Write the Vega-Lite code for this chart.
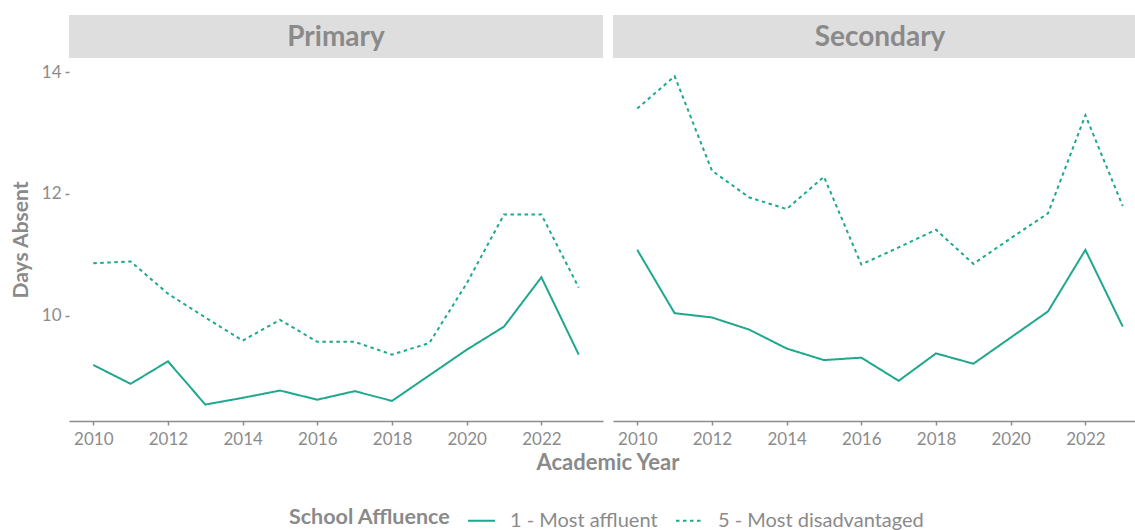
{
  "$schema": "https://vega.github.io/schema/vega-lite/v6.json",
  "background": "white",
  "padding": {"left": 10, "top": 15, "right": 0, "bottom": 4},
  "datasets": {
    "absence": [
      {"phase": "Primary", "affluence": "1 - Most affluent", "year": 2010, "days": 9.19},
      {"phase": "Primary", "affluence": "1 - Most affluent", "year": 2011, "days": 8.88},
      {"phase": "Primary", "affluence": "1 - Most affluent", "year": 2012, "days": 9.25},
      {"phase": "Primary", "affluence": "1 - Most affluent", "year": 2013, "days": 8.54},
      {"phase": "Primary", "affluence": "1 - Most affluent", "year": 2014, "days": 8.65},
      {"phase": "Primary", "affluence": "1 - Most affluent", "year": 2015, "days": 8.77},
      {"phase": "Primary", "affluence": "1 - Most affluent", "year": 2016, "days": 8.62},
      {"phase": "Primary", "affluence": "1 - Most affluent", "year": 2017, "days": 8.76},
      {"phase": "Primary", "affluence": "1 - Most affluent", "year": 2018, "days": 8.60},
      {"phase": "Primary", "affluence": "1 - Most affluent", "year": 2019, "days": 9.02},
      {"phase": "Primary", "affluence": "1 - Most affluent", "year": 2020, "days": 9.44},
      {"phase": "Primary", "affluence": "1 - Most affluent", "year": 2021, "days": 9.82},
      {"phase": "Primary", "affluence": "1 - Most affluent", "year": 2022, "days": 10.63},
      {"phase": "Primary", "affluence": "1 - Most affluent", "year": 2023, "days": 9.36},
      {"phase": "Primary", "affluence": "5 - Most disadvantaged", "year": 2010, "days": 10.86},
      {"phase": "Primary", "affluence": "5 - Most disadvantaged", "year": 2011, "days": 10.89},
      {"phase": "Primary", "affluence": "5 - Most disadvantaged", "year": 2012, "days": 10.36},
      {"phase": "Primary", "affluence": "5 - Most disadvantaged", "year": 2013, "days": 9.97},
      {"phase": "Primary", "affluence": "5 - Most disadvantaged", "year": 2014, "days": 9.59},
      {"phase": "Primary", "affluence": "5 - Most disadvantaged", "year": 2015, "days": 9.93},
      {"phase": "Primary", "affluence": "5 - Most disadvantaged", "year": 2016, "days": 9.57},
      {"phase": "Primary", "affluence": "5 - Most disadvantaged", "year": 2017, "days": 9.57},
      {"phase": "Primary", "affluence": "5 - Most disadvantaged", "year": 2018, "days": 9.36},
      {"phase": "Primary", "affluence": "5 - Most disadvantaged", "year": 2019, "days": 9.55},
      {"phase": "Primary", "affluence": "5 - Most disadvantaged", "year": 2020, "days": 10.53},
      {"phase": "Primary", "affluence": "5 - Most disadvantaged", "year": 2021, "days": 11.66},
      {"phase": "Primary", "affluence": "5 - Most disadvantaged", "year": 2022, "days": 11.66},
      {"phase": "Primary", "affluence": "5 - Most disadvantaged", "year": 2023, "days": 10.46},
      {"phase": "Secondary", "affluence": "1 - Most affluent", "year": 2010, "days": 11.08},
      {"phase": "Secondary", "affluence": "1 - Most affluent", "year": 2011, "days": 10.04},
      {"phase": "Secondary", "affluence": "1 - Most affluent", "year": 2012, "days": 9.97},
      {"phase": "Secondary", "affluence": "1 - Most affluent", "year": 2013, "days": 9.77},
      {"phase": "Secondary", "affluence": "1 - Most affluent", "year": 2014, "days": 9.46},
      {"phase": "Secondary", "affluence": "1 - Most affluent", "year": 2015, "days": 9.27},
      {"phase": "Secondary", "affluence": "1 - Most affluent", "year": 2016, "days": 9.31},
      {"phase": "Secondary", "affluence": "1 - Most affluent", "year": 2017, "days": 8.93},
      {"phase": "Secondary", "affluence": "1 - Most affluent", "year": 2018, "days": 9.38},
      {"phase": "Secondary", "affluence": "1 - Most affluent", "year": 2019, "days": 9.21},
      {"phase": "Secondary", "affluence": "1 - Most affluent", "year": 2020, "days": 9.64},
      {"phase": "Secondary", "affluence": "1 - Most affluent", "year": 2021, "days": 10.07},
      {"phase": "Secondary", "affluence": "1 - Most affluent", "year": 2022, "days": 11.08},
      {"phase": "Secondary", "affluence": "1 - Most affluent", "year": 2023, "days": 9.82},
      {"phase": "Secondary", "affluence": "5 - Most disadvantaged", "year": 2010, "days": 13.40},
      {"phase": "Secondary", "affluence": "5 - Most disadvantaged", "year": 2011, "days": 13.93},
      {"phase": "Secondary", "affluence": "5 - Most disadvantaged", "year": 2012, "days": 12.38},
      {"phase": "Secondary", "affluence": "5 - Most disadvantaged", "year": 2013, "days": 11.94},
      {"phase": "Secondary", "affluence": "5 - Most disadvantaged", "year": 2014, "days": 11.75},
      {"phase": "Secondary", "affluence": "5 - Most disadvantaged", "year": 2015, "days": 12.28},
      {"phase": "Secondary", "affluence": "5 - Most disadvantaged", "year": 2016, "days": 10.84},
      {"phase": "Secondary", "affluence": "5 - Most disadvantaged", "year": 2017, "days": 11.12},
      {"phase": "Secondary", "affluence": "5 - Most disadvantaged", "year": 2018, "days": 11.41},
      {"phase": "Secondary", "affluence": "5 - Most disadvantaged", "year": 2019, "days": 10.85},
      {"phase": "Secondary", "affluence": "5 - Most disadvantaged", "year": 2020, "days": 11.27},
      {"phase": "Secondary", "affluence": "5 - Most disadvantaged", "year": 2021, "days": 11.68},
      {"phase": "Secondary", "affluence": "5 - Most disadvantaged", "year": 2022, "days": 13.29},
      {"phase": "Secondary", "affluence": "5 - Most disadvantaged", "year": 2023, "days": 11.80}
    ]
  },
  "spacing": 3,
  "vconcat": [
    {
      "spacing": 10,
      "hconcat": [
        {
          "spacing": 0,
          "vconcat": [
            {
              "width": 534,
              "height": 43,
              "data": {"values": [{"phase": "Primary"}]},
              "view": {"fill": "#dedede", "stroke": null},
              "mark": {"type": "text", "font": "Lato", "fontWeight": "bold", "fontSize": 28, "color": "#8a8a8a", "baseline": "middle", "align": "center", "dy": 1},
              "encoding": {"text": {"field": "phase", "type": "nominal"}}
            },
            {
              "width": 534,
              "height": 363,
              "data": {"name": "absence"},
              "transform": [{"filter": "datum.phase === 'Primary'"}],
              "mark": {"type": "line", "strokeWidth": 2, "clip": true},
              "encoding": {
                "x": {
                  "field": "year", "type": "quantitative",
                  "scale": {"domain": [2009.35, 2023.65], "nice": false, "zero": false},
                  "axis": {"values": [2010, 2012, 2014, 2016, 2018, 2020, 2022], "format": "d", "title": null}
                },
                "y": {
                  "field": "days", "type": "quantitative",
                  "scale": {"domain": [8.27, 14.23], "nice": false, "zero": false},
                  "axis": {"values": [10, 12, 14], "title": "Days Absent", "domain": false}
                },
                "color": {
                  "field": "affluence", "type": "nominal", "title": "School Affluence",
                  "scale": {"domain": ["1 - Most affluent", "5 - Most disadvantaged"], "range": ["#1fa88e", "#1fa88e"]}
                },
                "strokeDash": {
                  "field": "affluence", "type": "nominal", "title": "School Affluence",
                  "scale": {"domain": ["1 - Most affluent", "5 - Most disadvantaged"], "range": [[1, 0], [3.5, 3.5]]}
                }
              }
            }
          ]
        },
        {
          "spacing": 0,
          "vconcat": [
            {
              "width": 534,
              "height": 43,
              "data": {"values": [{"phase": "Secondary"}]},
              "view": {"fill": "#dedede", "stroke": null},
              "mark": {"type": "text", "font": "Lato", "fontWeight": "bold", "fontSize": 28, "color": "#8a8a8a", "baseline": "middle", "align": "center", "dy": 1},
              "encoding": {"text": {"field": "phase", "type": "nominal"}}
            },
            {
              "width": 534,
              "height": 363,
              "data": {"name": "absence"},
              "transform": [{"filter": "datum.phase === 'Secondary'"}],
              "mark": {"type": "line", "strokeWidth": 2, "clip": true},
              "encoding": {
                "x": {
                  "field": "year", "type": "quantitative",
                  "scale": {"domain": [2009.35, 2023.65], "nice": false, "zero": false},
                  "axis": {"values": [2010, 2012, 2014, 2016, 2018, 2020, 2022], "format": "d", "title": null}
                },
                "y": {
                  "field": "days", "type": "quantitative",
                  "scale": {"domain": [8.27, 14.23], "nice": false, "zero": false},
                  "axis": null
                },
                "color": {
                  "field": "affluence", "type": "nominal", "title": "School Affluence",
                  "scale": {"domain": ["1 - Most affluent", "5 - Most disadvantaged"], "range": ["#1fa88e", "#1fa88e"]}
                },
                "strokeDash": {
                  "field": "affluence", "type": "nominal", "title": "School Affluence",
                  "scale": {"domain": ["1 - Most affluent", "5 - Most disadvantaged"], "range": [[1, 0], [3.5, 3.5]]}
                }
              }
            }
          ]
        }
      ]
    },
    {
      "width": 1078,
      "height": 26,
      "data": {"values": [{"label": "Academic Year"}]},
      "mark": {"type": "text", "font": "Lato", "fontWeight": "bold", "fontSize": 22, "color": "#8a8a8a", "baseline": "middle", "align": "center"},
      "encoding": {"text": {"field": "label", "type": "nominal"}}
    }
  ],
  "resolve": {"scale": {"color": "shared", "strokeDash": "shared", "x": "independent", "y": "independent"}},
  "config": {
    "font": "Lato",
    "view": {"stroke": null},
    "axis": {
      "grid": false,
      "labelFont": "Lato",
      "labelFontSize": 17,
      "labelColor": "#8c8c8c",
      "titleFont": "Lato",
      "titleFontSize": 21,
      "titleFontWeight": "bold",
      "titleColor": "#8a8a8a",
      "tickColor": "#8c8c8c",
      "tickSize": 4,
      "tickWidth": 1.5,
      "domainColor": "#8c8c8c",
      "domainWidth": 1.5
    },
    "axisX": {"labelPadding": 6},
    "axisY": {"labelPadding": 4, "titlePadding": 10},
    "legend": {
      "orient": "none",
      "legendX": 220,
      "legendY": 491,
      "direction": "horizontal",
      "titleOrient": "left",
      "titleFont": "Lato",
      "titleFontSize": 21.5,
      "titleFontWeight": "bold",
      "titleColor": "#8a8a8a",
      "titlePadding": 16,
      "titleLimit": 400,
      "labelFont": "Lato",
      "labelFontSize": 20,
      "labelColor": "#8a8a8a",
      "labelLimit": 400,
      "labelOffset": 14,
      "symbolType": "stroke",
      "symbolSize": 729,
      "symbolStrokeWidth": 2,
      "columnPadding": 14
    }
  }
}
